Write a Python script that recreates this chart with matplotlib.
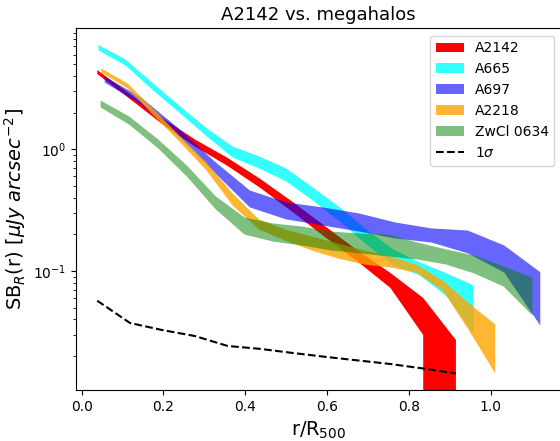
import matplotlib
matplotlib.use("Agg")
import matplotlib.pyplot as plt

# A2142
x_a2142 = [0.038, 0.118, 0.197, 0.277, 0.357, 0.437, 0.516, 0.596, 0.676, 0.755, 0.835, 0.915]
up_a2142 = [4.48, 2.85, 1.81, 1.204, 0.848, 0.570, 0.369, 0.232, 0.146, 0.0963, 0.0600, 0.0271]
lo_a2142 = [4.16, 2.59, 1.61, 1.054, 0.729, 0.481, 0.305, 0.1885, 0.1186, 0.0725, 0.0298, 0.0]
sig_a2142 = [0.0570, 0.0374, 0.0327, 0.0292, 0.0242, 0.0229, 0.0212, 0.0197, 0.0184, 0.0172, 0.0158, 0.0144]

# A665
x_a665 = [0.040, 0.106, 0.171, 0.237, 0.302, 0.368, 0.433, 0.499, 0.564, 0.630, 0.695, 0.761, 0.826, 0.892, 0.957]
up_a665 = [7.26, 5.52, 3.57, 2.31, 1.525, 1.064, 0.881, 0.702, 0.490, 0.336, 0.2214, 0.1516, 0.1186, 0.0963, 0.0767]
lo_a665 = [6.55, 4.93, 3.13, 2.03, 1.311, 0.864, 0.702, 0.549, 0.383, 0.2575, 0.1666, 0.1120, 0.0927, 0.0623, 0.0305]

# A697
x_a697 = [0.055, 0.144, 0.233, 0.321, 0.410, 0.499, 0.588, 0.677, 0.765, 0.854, 0.943, 1.032, 1.120]
up_a697 = [4.00, 2.69, 1.525, 0.817, 0.463, 0.369, 0.336, 0.300, 0.253, 0.226, 0.217, 0.1635, 0.0987]
lo_a697 = [3.57, 2.36, 1.311, 0.663, 0.336, 0.268, 0.239, 0.213, 0.187, 0.173, 0.141, 0.098, 0.036]

# A2218
x_a2218 = [0.047, 0.111, 0.175, 0.240, 0.304, 0.368, 0.432, 0.496, 0.561, 0.625, 0.689, 0.753, 0.817, 0.882, 0.946, 1.010]
up_a2218 = [4.66, 3.51, 2.14, 1.286, 0.786, 0.4375, 0.2676, 0.2214, 0.194, 0.170, 0.149, 0.133, 0.114, 0.0843, 0.0546, 0.0367]
lo_a2218 = [4.32, 3.19, 1.91, 1.148, 0.676, 0.3485, 0.2214, 0.180, 0.149, 0.128, 0.114, 0.108, 0.098, 0.0698, 0.0327, 0.0145]

# ZwCl 0634
x_zwcl = [0.045, 0.115, 0.186, 0.256, 0.327, 0.397, 0.467, 0.538, 0.608, 0.679, 0.749, 0.819, 0.890, 0.960, 1.031, 1.101]
up_zwcl = [2.54, 1.88, 1.215, 0.743, 0.413, 0.278, 0.248, 0.234, 0.213, 0.205, 0.201, 0.173, 0.152, 0.135, 0.110, 0.089]
lo_zwcl = [2.23, 1.61, 1.025, 0.603, 0.323, 0.201, 0.176, 0.1635, 0.149, 0.141, 0.133, 0.1255, 0.114, 0.096, 0.075, 0.0435]

fig = plt.figure(figsize=(5.6, 4.41), dpi=100)
ax = fig.add_axes([76 / 560, 51 / 441, 485 / 560, 361.7 / 441])

ax.fill_between(x_a2142, lo_a2142, up_a2142, color="red", alpha=1.0, lw=0, label="A2142")
ax.fill_between(x_a665, lo_a665, up_a665, color="cyan", alpha=0.8, lw=0, label="A665")
ax.fill_between(x_a697, lo_a697, up_a697, color="blue", alpha=0.6, lw=0, label="A697")
ax.fill_between(x_a2218, lo_a2218, up_a2218, color="orange", alpha=0.8, lw=0, label="A2218")
ax.fill_between(x_zwcl, lo_zwcl, up_zwcl, color="green", alpha=0.5, lw=0, label="ZwCl 0634")
ax.plot(x_a2142, sig_a2142, color="black", ls="--", lw=1.5, label=r"1$\sigma$")

ax.set_yscale("log")
ax.set_xlim(-0.0139, -0.0139 + 485 / 409)
ax.set_ylim(0.01052, 9.868)
ax.set_xticks([0.0, 0.2, 0.4, 0.6, 0.8, 1.0])

ax.set_title("A2142 vs. megahalos", fontsize=13)
ax.set_xlabel(r"r/R$_{500}$", fontsize=14)
ax.set_ylabel(r"SB$_R$(r) [$\mu Jy$ $arcsec^{-2}$]", fontsize=14)

ax.legend(loc="upper right", bbox_to_anchor=(554.3 / 560, 1 - 35.7 / 441),
          bbox_transform=fig.transFigure, borderaxespad=0, fontsize=10)

fig.savefig("out.png", dpi=100)
